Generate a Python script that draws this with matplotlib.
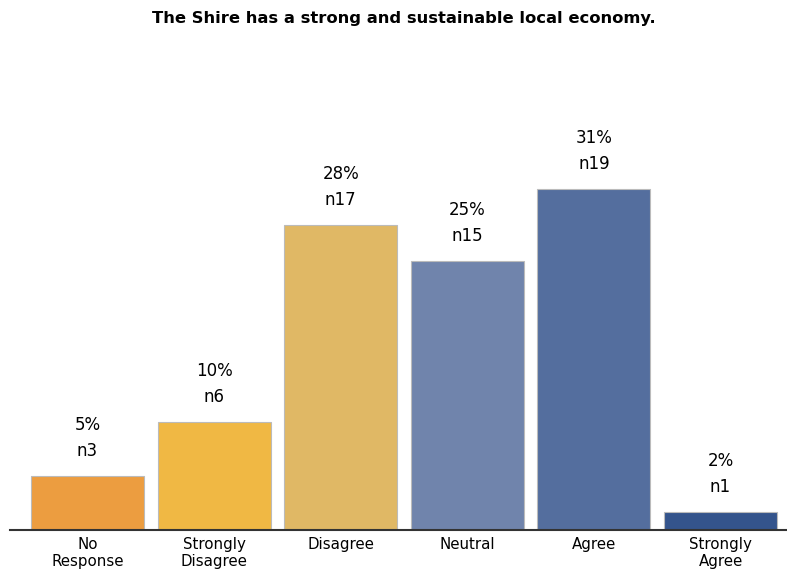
import numpy as np
import matplotlib.pyplot as plt

categories = ["No\nResponse", "Strongly\nDisagree", "Disagree", "Neutral", "Agree", "Strongly\nAgree"]
counts = [3, 6, 17, 15, 19, 1]
colors = ["#EC9D40", "#F0B844", "#E0B865", "#7084AC", "#546E9E", "#34548C"]
title = "The Shire has a strong and sustainable local economy."

counts = np.array(counts)
pct = counts / counts.sum() * 100

fig = plt.figure(figsize=(7.87, 5.72), dpi=100)
ax = fig.add_axes([10 / 787, 1 - 530 / 572, 777 / 787, 490 / 572])

x = np.arange(len(categories))
bars = ax.bar(x, pct, width=0.893, color=colors, edgecolor="#BBBBBB", linewidth=0.8)

for xi, p, n in zip(x, pct, counts):
    ax.annotate(f"{round(p)}%", (xi, p), xytext=(0, 51), textcoords="offset pixels",
                ha="center", va="center", fontsize=12, color="black")
    ax.annotate(f"n{n}", (xi, p), xytext=(0, 25), textcoords="offset pixels",
                ha="center", va="center", fontsize=12, color="black")

ax.set_xlim(-0.612, 5.525)
ax.set_ylim(0, 44.75)
ax.set_xticks(x)
ax.set_xticklabels(categories, fontsize=10.8, linespacing=1.15)
ax.tick_params(axis="x", length=0, pad=5)
ax.set_yticks([])
for s in ["top", "right", "left"]:
    ax.spines[s].set_visible(False)
ax.spines["bottom"].set_color("#333333")
ax.spines["bottom"].set_linewidth(1.5)

fig.text(404 / 787, 1 - 18 / 572, title, ha="center", va="center", fontsize=11.8, fontweight="bold")

fig.savefig("out.png", dpi=100)
